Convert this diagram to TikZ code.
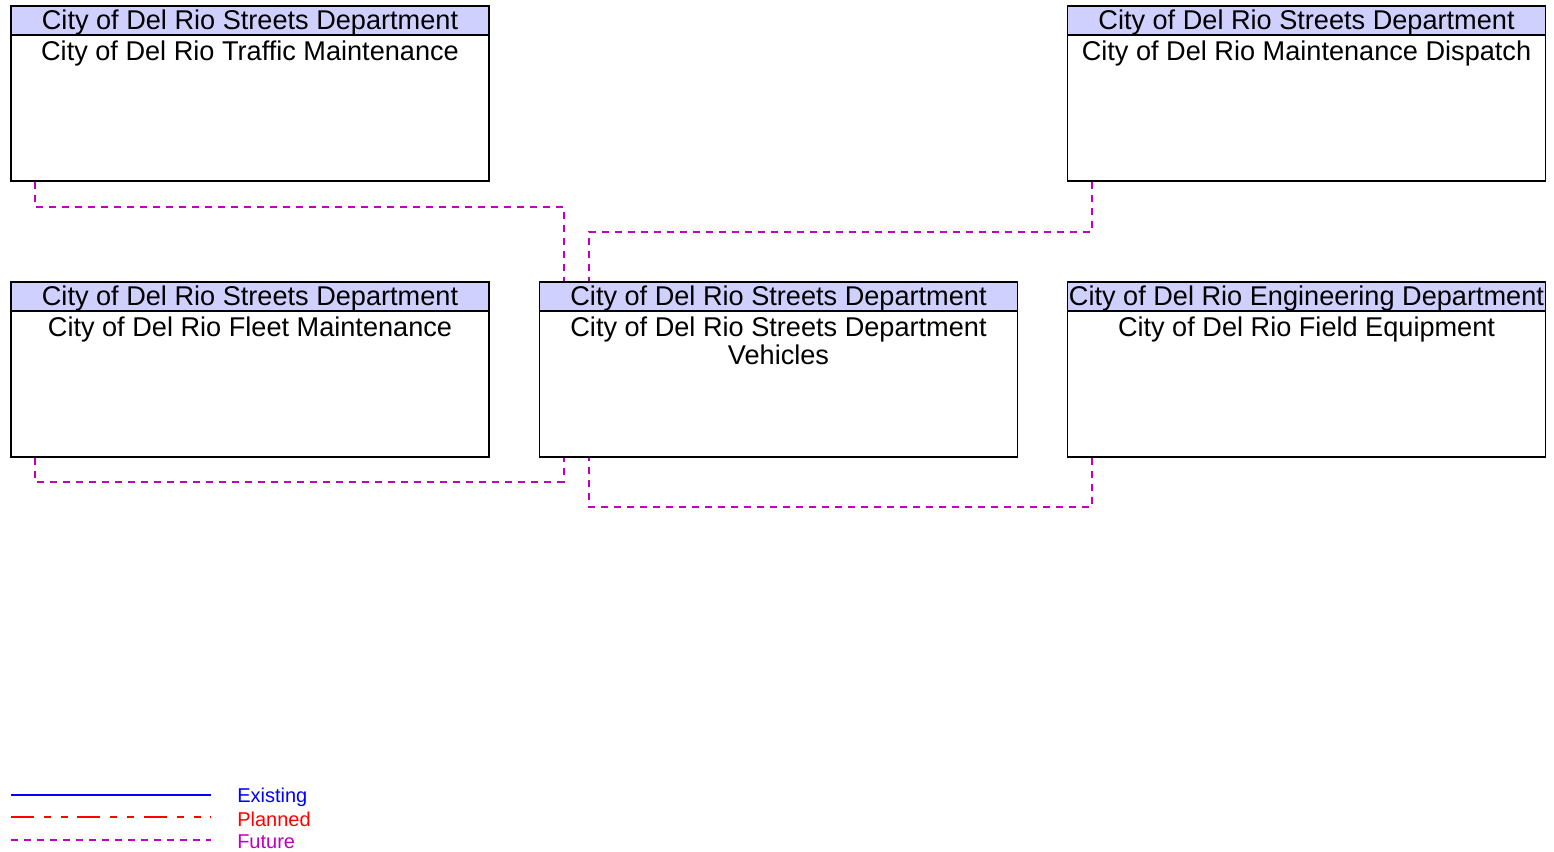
\documentclass[tikz,border=0pt]{standalone}
\usepackage{fontspec}
\setmainfont{Liberation Sans}
\definecolor{hdr}{RGB}{208,208,255}
\definecolor{fut}{RGB}{192,0,192}
\definecolor{exi}{RGB}{0,0,255}
\definecolor{pla}{RGB}{255,0,0}
\tikzset{
  sysbox/.style={draw=black, line width=0.9pt, minimum width=358.5pt, minimum height=131.25pt, inner sep=0pt, fill=white},
  hdrbox/.style={draw=black, line width=0.9pt, fill=hdr, minimum width=358.5pt, minimum height=21.75pt, inner sep=0pt, anchor=north},
  hdrtxt/.style={inner sep=0pt, font=\fontsize{20.35pt}{22pt}\selectfont},
  bodytxt/.style={anchor=north, inner sep=0pt, align=center, font=\fontsize{20.35pt}{21pt}\selectfont},
  future/.style={draw=fut, line width=1.4pt, dash pattern=on 5.25pt off 4.5pt},
  legtxt/.style={anchor=west, inner sep=0pt, font=\fontsize{15pt}{17pt}\selectfont}
}
\begin{document}
\begin{tikzpicture}[x=0.75pt,y=-0.75pt]
\useasboundingbox (0,0) rectangle (1554,851);
% boxes
\node[sysbox] (tm) at (250,93.5) {};
\node[hdrbox] (tmh) at (tm.north) {};
\node[hdrtxt] (tmx) at ([yshift=-1.5pt]tmh.center) {City of Del Rio Streets Department};
\node[bodytxt] (tmt) at ([yshift=-4pt]tmh.south) {City of Del Rio Traffic Maintenance};

\node[sysbox] (md) at (1306.5,93.5) {};
\node[hdrbox] (mdh) at (md.north) {};
\node[hdrtxt] (mdx) at ([yshift=-1.5pt]mdh.center) {City of Del Rio Streets Department};
\node[bodytxt] (mdt) at ([yshift=-4pt]mdh.south) {City of Del Rio Maintenance Dispatch};

\node[sysbox] (fm) at (250,369.5) {};
\node[hdrbox] (fmh) at (fm.north) {};
\node[hdrtxt] (fmx) at ([yshift=-1.5pt]fmh.center) {City of Del Rio Streets Department};
\node[bodytxt] (fmt) at ([yshift=-4pt]fmh.south) {City of Del Rio Fleet Maintenance};

\node[sysbox] (vh) at (778.5,369.5) {};
\node[hdrbox] (vhh) at (vh.north) {};
\node[hdrtxt] (vhx) at ([yshift=-1.5pt]vhh.center) {City of Del Rio Streets Department};
\node[bodytxt] (vht) at ([yshift=-4pt]vhh.south) {City of Del Rio Streets Department\\Vehicles};

\node[sysbox] (fe) at (1306.5,369.5) {};
\node[hdrbox] (feh) at (fe.north) {};
\node[hdrtxt] (fex) at ([yshift=-1.5pt]feh.center) {City of Del Rio Engineering Department};
\node[bodytxt] (fet) at ([yshift=-4pt]feh.south) {City of Del Rio Field Equipment};

% connectors
\draw[future] ([xshift=18.75pt]tm.south west) -- ++(0,25) -| ([xshift=18.75pt]vh.north west);
\draw[future] ([xshift=18.75pt]md.south west) -- ++(0,50) -| ([xshift=37.5pt]vh.north west);
\draw[future] ([xshift=18.75pt]fm.south west) -- ++(0,24) -| ([xshift=18.75pt]vh.south west);
\draw[future] ([xshift=18.75pt]fe.south west) -- ++(0,49) -| ([xshift=37.5pt]vh.south west);

% legend
\coordinate (e1) at (11,795); \coordinate (e2) at (211,795);
\coordinate (p1) at (11,817); \coordinate (p2) at (211,817);
\coordinate (f1) at (11,840); \coordinate (f2) at (211,840);
\draw[draw=exi, line width=1.5pt] (e1) -- (e2);
\draw[draw=pla, line width=1.4pt, dash pattern=on 17.25pt off 7.5pt on 5.25pt off 7.5pt on 5.25pt off 7pt] (p1) -- (p2);
\draw[future] (f1) -- (f2);
\node[legtxt, text=exi] (le) at (237,797.5) {Existing};
\node[legtxt, text=pla] (lp) at (237,819.5) {Planned};
\node[legtxt, text=fut] (lf) at (237,841.5) {Future};
\end{tikzpicture}
\end{document}
